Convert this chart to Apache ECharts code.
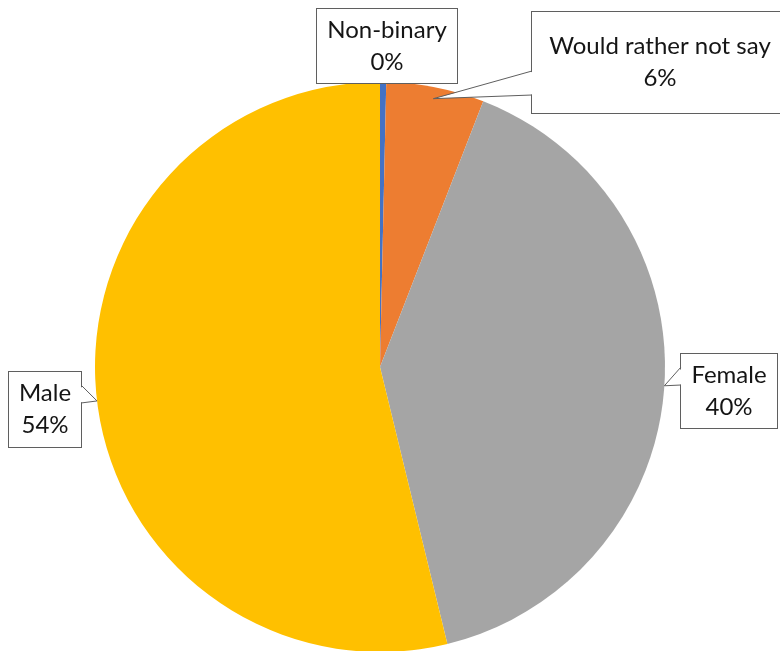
<!DOCTYPE html>
<html><head><meta charset="utf-8">
<script src="https://cdn.jsdelivr.net/npm/echarts@6/dist/echarts.min.js"></script>
<style>html,body{margin:0;padding:0;background:#fff}#c{width:780px;height:651px}</style>
</head><body><div id="c"></div>
<script>
const categories = ['Non-binary', 'Would rather not say', 'Female', 'Male'];
const values = [0.35, 5.55, 40.3, 53.8];
const colors = ['#4472C4', '#ED7D31', '#A5A5A5', '#FFC000'];

const CENTER = [380, 367], R = 285;
const LINE_H = 32;
// callout box layout (center, content width, padding)
const boxes = [
  {x: 387, y: 46, w: 130, pad: [5, 5, 5, 5]},
  {x: 660, y: 62.5, w: 230, pad: [18, 13, 19, 13]},
  {x: 729, y: 391, w: 88, pad: [5, 4, 5, 4]},
  {x: 45, y: 409.5, w: 64, pad: [5, 4, 6, 4]}
];
// wedge base on box edge
const wedges = [
  null,
  {side: 'left', y1: 71, y2: 95, rf: 0.96},
  {side: 'left', y1: 367, y2: 385, rf: 1.0},
  {side: 'right', y1: 385, y2: 403, rf: 1.0}
];
const BORDER = '#5f5f5f';

const total = values.reduce((a, b) => a + b, 0);
let acc = 0;
const graphics = [];
values.forEach((v, i) => {
  const a0 = acc / total * 360; acc += v;
  const a1 = acc / total * 360;
  const w = wedges[i];
  if (!w) return;
  const mid = (a0 + a1) / 2 * Math.PI / 180;
  const tip = [CENTER[0] + R * w.rf * Math.sin(mid), CENTER[1] - R * w.rf * Math.cos(mid)];
  const b = boxes[i];
  const bw = b.w + b.pad[1] + b.pad[3];
  const ex = w.side === 'left' ? b.x - bw / 2 : b.x + bw / 2;
  const inset = w.side === 'left' ? 1.5 : -1.5;
  graphics.push({type: 'polygon', z: 100, shape: {points: [[ex + inset, w.y1 + 0.5], tip, [ex + inset, w.y2 - 0.5]]}, style: {fill: '#fff'}});
  graphics.push({type: 'polyline', z: 101, shape: {points: [[ex, w.y1], tip, [ex, w.y2]]}, style: {stroke: BORDER, lineWidth: 1, fill: null}});
});

const chart = echarts.init(document.getElementById('c'));
chart.setOption({
  animation: false,
  backgroundColor: '#fff',
  graphic: graphics,
  series: [{
    type: 'pie',
    center: CENTER,
    radius: R,
    startAngle: 90,
    clockwise: true,
    percentPrecision: 0,
    avoidLabelOverlap: false,
    itemStyle: {borderWidth: 0},
    labelLine: {show: false},
    emphasis: {disabled: true},
    data: categories.map((c, i) => ({
      name: c, value: values[i],
      itemStyle: {color: colors[i]},
      label: {width: boxes[i].w, padding: boxes[i].pad}
    })),
    label: {
      show: true,
      position: 'outside',
      formatter: '{b}\n{d}%',
      fontFamily: 'Lato',
      fontSize: 24,
      lineHeight: LINE_H,
      color: '#151515',
      align: 'center',
      backgroundColor: '#fff',
      borderColor: BORDER,
      borderWidth: 1
    },
    labelLayout: function (p) {
      const b = boxes[p.dataIndex];
      return {x: b.x, y: b.y, align: 'center', verticalAlign: 'middle'};
    }
  }]
});
</script></body></html>
